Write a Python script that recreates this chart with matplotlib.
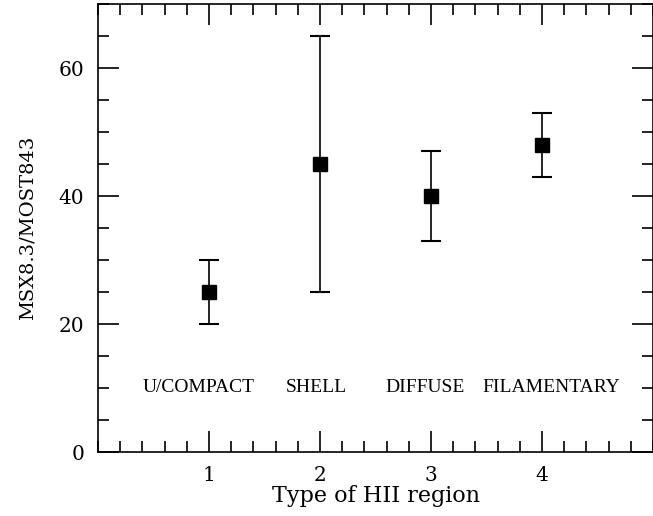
import matplotlib
matplotlib.use("Agg")
import matplotlib.pyplot as plt
from matplotlib.ticker import MultipleLocator

# data
region_type = [1, 2, 3, 4]
ratio = [25, 45, 40, 48]
ratio_low = [20, 25, 33, 43]
ratio_high = [30, 65, 47, 53]
class_names = ['U/COMPACT', 'SHELL', 'DIFFUSE', 'FILAMENTARY']
class_x = [0.91, 1.97, 2.95, 4.08]
class_y = 10

plt.rcParams['font.family'] = ['DejaVu Serif']

fig = plt.figure(figsize=(6.53, 5.16), dpi=100)
ax = fig.add_axes([98 / 653, 64 / 516, 555 / 653, 448 / 516])

yerr = [[r - lo for r, lo in zip(ratio, ratio_low)],
        [hi - r for r, hi in zip(ratio, ratio_high)]]
ax.errorbar(region_type, ratio, yerr=yerr, fmt='s', color='black',
            markersize=10, capsize=7, elinewidth=1.2, capthick=1.5)

for name, x in zip(class_names, class_x):
    ax.text(x, class_y, name, ha='center', va='center', fontsize=14,
            family='Liberation Serif')

ax.set_xlim(0, 5)
ax.set_ylim(0, 70)
ax.xaxis.set_major_locator(MultipleLocator(1))
ax.xaxis.set_minor_locator(MultipleLocator(0.2))
ax.yaxis.set_major_locator(MultipleLocator(20))
ax.yaxis.set_minor_locator(MultipleLocator(5))
ax.set_xticks([1, 2, 3, 4])
ax.tick_params(which='both', direction='in', top=True, right=True, width=1.2)
ax.tick_params(which='major', length=15, labelsize=14.5, pad=10)
ax.tick_params(which='minor', length=8)
for s in ax.spines.values():
    s.set_linewidth(1.2)

ax.set_xlabel('Type of HII region', fontsize=16, labelpad=0)
ax.set_ylabel('MSX8.3/MOST843', fontsize=14, labelpad=16)

fig.savefig('out.png', dpi=100)
